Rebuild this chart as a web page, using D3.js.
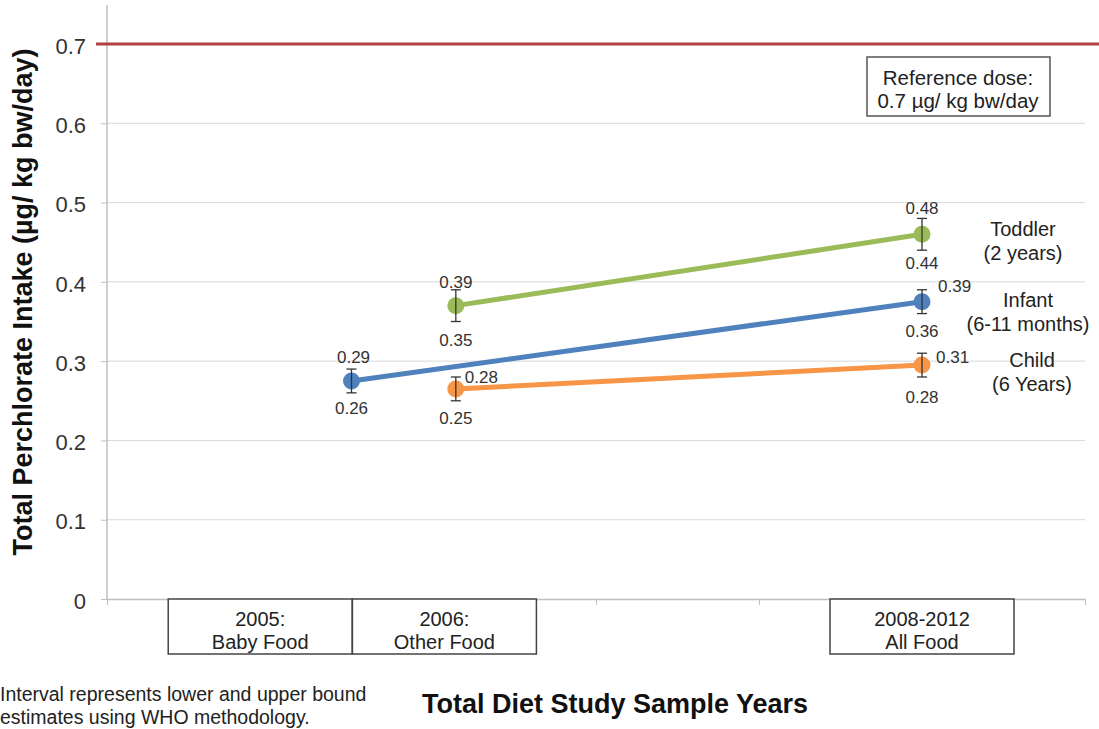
<!DOCTYPE html>
<html><head><meta charset="utf-8">
<script src="https://cdn.jsdelivr.net/npm/d3@7"></script>
<style>body{margin:0;background:#fff;} svg{display:block;font-family:"Liberation Sans",Arial,sans-serif;}</style>
</head><body>
<script>
// ---- data ----
const sampleLabels = [["2005:", "Baby Food"], ["2006:", "Other Food"], ["2008-2012", "All Food"]];
const sampleBoxPos = [0.94, 2.07, 5.0];      // box centers in axis units
const sampleX = [1.5, 2.14, 5.0];            // point positions in axis units for 2005, 2006, 2008-2012
const seriesNames = [["Toddler", "(2 years)"], ["Infant", "(6-11 months)"], ["Child", "(6 Years)"]];
const seriesColors = ["#9bbb59", "#4f81bd", "#f79646"];
const toddlerMean = [null, 0.37, 0.46];
const toddlerLow = [null, 0.35, 0.44];
const toddlerHigh = [null, 0.39, 0.48];
const infantMean = [0.275, null, 0.375];
const infantLow = [0.26, null, 0.36];
const infantHigh = [0.29, null, 0.39];
const childMean = [null, 0.265, 0.295];
const childLow = [null, 0.25, 0.28];
const childHigh = [null, 0.28, 0.31];
const yTicks = [0, 0.1, 0.2, 0.3, 0.4, 0.5, 0.6, 0.7];
const referenceDose = 0.7;

const W = 1099, H = 729;
const svg = d3.select("body").append("svg").attr("width", W).attr("height", H);
const x = d3.scaleLinear().domain([0, 6]).range([107, 1085]);
const y = d3.scaleLinear().domain([0, 0.7]).range([599, 44]);

// gridlines
svg.append("g").selectAll("line").data(yTicks.filter(d => d > 0 && d < 0.7)).join("line")
  .attr("x1", x(0)).attr("x2", x(6)).attr("y1", d => y(d)).attr("y2", d => y(d))
  .attr("stroke", "#d9d9d9").attr("stroke-width", 1);

// y axis
const yAxis = d3.axisLeft(y).tickValues(yTicks).tickFormat(d => d === 0 ? "0" : d3.format(".1f")(d)).tickSize(6).tickPadding(15);
const gy = svg.append("g").attr("transform", `translate(${x(0)},0)`).call(yAxis);
gy.select(".domain").remove();
gy.selectAll(".tick line").attr("stroke", "#bfbfbf");
gy.selectAll(".tick text").attr("font-size", 22).attr("fill", "#333").attr("dy", "0.42em").attr("font-family", "Liberation Sans, Arial, sans-serif");
svg.append("line").attr("x1", x(0)).attr("x2", x(0)).attr("y1", 5).attr("y2", y(0)).attr("stroke", "#bfbfbf").attr("stroke-width", 1.5);

// x axis
const xAxis = d3.axisBottom(x).tickValues(d3.range(0, 7)).tickFormat("").tickSize(6).tickSizeOuter(0);
const gx = svg.append("g").attr("transform", `translate(0,${y(0)})`).call(xAxis);
gx.select(".domain").attr("stroke", "#bfbfbf").attr("stroke-width", 1.5);
gx.selectAll(".tick line").attr("stroke", "#bfbfbf");

// reference line
svg.append("line").attr("x1", 96).attr("x2", W).attr("y1", y(referenceDose)).attr("y2", y(referenceDose))
  .attr("stroke", "#b33f3f").attr("stroke-width", 3);

// reference box
const rb = svg.append("g");
rb.append("rect").attr("x", 867).attr("y", 57).attr("width", 183).attr("height", 59).attr("fill", "#fff").attr("stroke", "#555").attr("stroke-width", 1.5);
rb.append("text").attr("x", 958).attr("y", 85).attr("text-anchor", "middle").attr("font-size", 20.5).attr("fill", "#222").text("Reference dose:");
rb.append("text").attr("x", 958).attr("y", 108).attr("text-anchor", "middle").attr("font-size", 20.5).attr("fill", "#222").text("0.7 µg/ kg bw/day");

// series
const series = [
  {mean: toddlerMean, low: toddlerLow, high: toddlerHigh},
  {mean: infantMean, low: infantLow, high: infantHigh},
  {mean: childMean, low: childLow, high: childHigh}
];
// label offsets [dx,dy] for high/low labels per series per point
const hiOff = [[null, [0, -2], [0, -4]], [[2, -6], null, [16, 2]], [null, [9, 6], [14, 10]]];
const loOff = [[null, [0, 24], [0, 19]], [[0, 21], null, [0, 23]], [null, [0, 23], [0, 26]]];

const line = d3.line().defined(d => d.v != null).x(d => x(d.x)).y(d => y(d.v));
series.forEach((s, i) => {
  const pts = s.mean.map((v, j) => ({x: sampleX[j], v, lo: s.low[j], hi: s.high[j], j})).filter(d => d.v != null);
  svg.append("path").datum(pts).attr("d", line).attr("fill", "none").attr("stroke", seriesColors[i]).attr("stroke-width", 5);
  const g = svg.append("g");
  pts.forEach(d => {
    const cx = x(d.x);
    g.append("circle").attr("cx", cx).attr("cy", y(d.v)).attr("r", 8.5).attr("fill", seriesColors[i]);
    const eb = g.append("g").attr("stroke", "#333").attr("stroke-width", 1.3);
    eb.append("line").attr("x1", cx).attr("x2", cx).attr("y1", y(d.hi)).attr("y2", y(d.lo));
    eb.append("line").attr("x1", cx - 5).attr("x2", cx + 5).attr("y1", y(d.hi)).attr("y2", y(d.hi));
    eb.append("line").attr("x1", cx - 5).attr("x2", cx + 5).attr("y1", y(d.lo)).attr("y2", y(d.lo));
    const ho = hiOff[i][d.j], lo = loOff[i][d.j];
    const hAnchor = ho[0] > 5 ? "start" : "middle";
    g.append("text").attr("x", cx + ho[0]).attr("y", y(d.hi) + ho[1]).attr("text-anchor", hAnchor)
      .attr("font-size", 17).attr("fill", "#333").text(d3.format(".2f")(d.hi));
    g.append("text").attr("x", cx + lo[0]).attr("y", y(d.lo) + lo[1]).attr("text-anchor", "middle")
      .attr("font-size", 17).attr("fill", "#333").text(d3.format(".2f")(d.lo));
  });
  // series name
  const last = pts[pts.length - 1];
  const lblX = [1023, 1028, 1032][i];
  const lblY = y(last.v) + [2, 5, 2][i];
  const t = svg.append("text").attr("text-anchor", "middle").attr("font-size", 20).attr("fill", "#222");
  t.append("tspan").attr("x", lblX).attr("y", lblY).text(seriesNames[i][0]);
  t.append("tspan").attr("x", lblX).attr("dy", 24).text(seriesNames[i][1]);
});

// category boxes
sampleLabels.forEach((lab, k) => {
  const cx = x(sampleBoxPos[k]);
  svg.append("rect").attr("x", cx - 92).attr("y", 599).attr("width", 184).attr("height", 55)
    .attr("fill", "#fff").attr("stroke", "#444").attr("stroke-width", 1.5);
  svg.append("text").attr("x", cx).attr("y", 626).attr("text-anchor", "middle").attr("font-size", 20).attr("fill", "#222").text(lab[0]);
  svg.append("text").attr("x", cx).attr("y", 649).attr("text-anchor", "middle").attr("font-size", 20).attr("fill", "#222").text(lab[1]);
});

// axis titles
svg.append("text").attr("transform", `translate(32,${302}) rotate(-90)`).attr("text-anchor", "middle")
  .attr("font-size", 27).attr("font-weight", "bold").attr("fill", "#111").text("Total Perchlorate Intake (µg/ kg bw/day)");
svg.append("text").attr("x", 615).attr("y", 713).attr("text-anchor", "middle")
  .attr("font-size", 27).attr("font-weight", "bold").attr("fill", "#111").text("Total Diet Study Sample Years");

// footnote
svg.append("text").attr("x", 0).attr("y", 701).attr("font-size", 19.5).attr("fill", "#222").text("Interval represents lower and upper bound");
svg.append("text").attr("x", 0).attr("y", 724).attr("font-size", 19.5).attr("fill", "#222").text("estimates using WHO methodology.");
</script>
</body></html>
